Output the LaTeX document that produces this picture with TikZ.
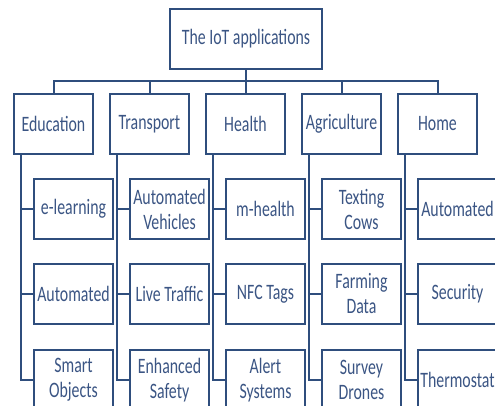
\documentclass[tikz,border=0pt]{standalone}
\usepackage{fontspec}
\setmainfont{Carlito}[FakeStretch=0.72]
\definecolor{linecol}{HTML}{2F4E7D}
\definecolor{textcol}{HTML}{3B5584}
\begin{document}
\begin{tikzpicture}[x=1pt,y=-1pt,
  box/.style={draw=linecol, line width=2pt, fill=white, minimum width=79pt,
    minimum height=60pt, inner sep=0pt, align=center, text=textcol,
    font=\fontsize{22}{25}\selectfont},
  link/.style={draw=linecol, line width=2pt}]
\useasboundingbox (0,0) rectangle (495,406);
% root
\node[box, minimum width=152pt] (root) at (246,39) {The IoT applications};
% categories
\foreach \n/\x/\t in {1/53.5/Education, 2/149.5/Transport, 3/245.5/Health, 4/341.5/Agriculture, 5/437.5/Home}
  \node[box] (c\n) at (\x,124) {\t};
% children
\foreach \n/\x/\a/\b/\c in {
  1/73.5/{e-learning}/{Automated}/{Smart\\Objects},
  2/169.5/{Automated\\Vehicles}/{Live Traffic}/{Enhanced\\Safety},
  3/265.5/{m-health}/{NFC Tags}/{Alert\\Systems},
  4/361.5/{Texting\\Cows}/{Farming\\Data}/{Survey\\Drones},
  5/457.5/{Automated}/{Security}/{Thermostat}} {
  \node[box] (c\n a) at (\x,209) {\a};
  \node[box] (c\n b) at (\x,294) {\b};
  \node[box] (c\n c) at (\x,380) {\c};
}
% root to categories bus
\coordinate (bus) at ([yshift=-11pt]root.south);
\foreach \n in {1,...,5}
  \draw[link] (root.south) -- (bus) -| (c\n.north);
% category trunks and branches
\foreach \n in {1,...,5} {
  \coordinate (t\n) at ([xshift=8pt]c\n.south west);
  \draw[link] (t\n) |- (c\n c.west);
  \draw[link] (t\n |- c\n a.west) -- (c\n a.west);
  \draw[link] (t\n |- c\n b.west) -- (c\n b.west);
}
\end{tikzpicture}
\end{document}
